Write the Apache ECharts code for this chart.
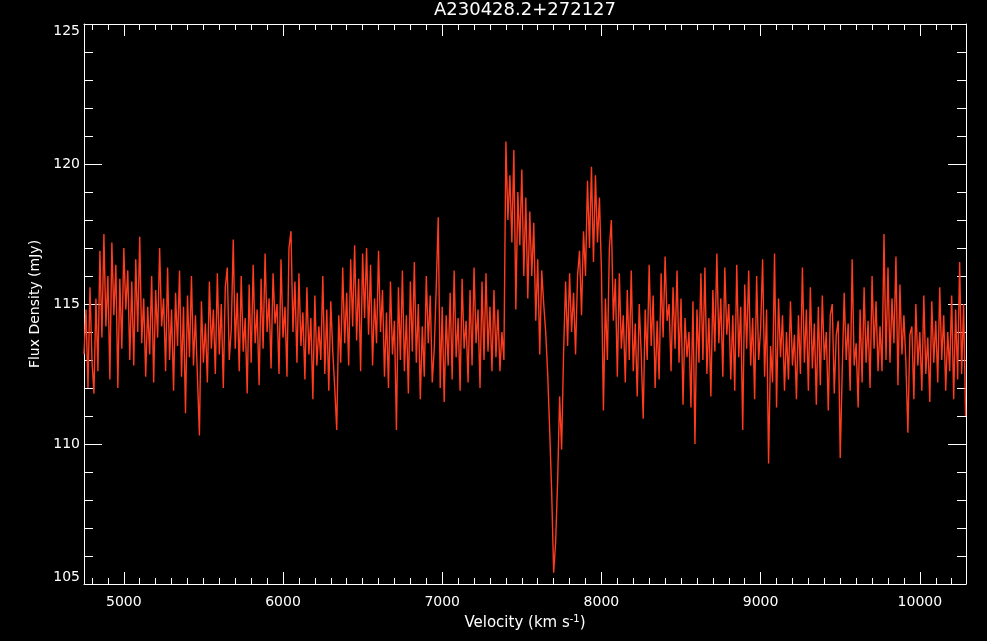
<!DOCTYPE html>
<html>
<head>
<meta charset="utf-8">
<script src="https://cdn.jsdelivr.net/npm/echarts@6/dist/echarts.min.js"></script>
<style>
html,body{margin:0;padding:0;background:#000;}
#chart{width:987px;height:641px;}
</style>
</head>
<body>
<div id="chart"></div>
<script>
const chartTitle = 'A230428.2+272127';
const xAxisTitle = 'Velocity (km s{sup|-1})';
const yAxisTitle = 'Flux Density (mJy)';
const velocityStart = 4750;   // km/s, first channel
const velocityStep = 12.5;    // km/s per channel
const xRange = [4750, 10290];
const yRange = [105, 125];
const yTickStep = 5;

// Flux density (mJy) per channel
const flux = [
  113.2, 114.8, 112.0, 115.6, 113.0, 111.8, 115.2, 112.6,
  116.9, 113.8, 117.5, 114.2, 116.0, 112.3, 117.2, 114.6,
  116.4, 112.0, 115.9, 113.4, 117.0, 114.8, 116.2, 113.0,
  115.8, 112.8, 116.6, 114.0, 117.4, 113.6, 115.2, 112.4,
  114.9, 113.2, 116.0, 112.2, 115.5, 113.8, 117.0, 114.2,
  115.2, 112.6, 116.3, 113.0, 114.8, 111.9, 115.4, 113.5,
  116.2, 112.4, 114.9, 111.1, 115.3, 113.1, 116.0, 112.8,
  114.6, 112.4, 110.3, 115.1, 112.9, 114.3, 112.2, 115.8,
  113.4, 114.8, 112.5, 116.1, 113.2, 115.0, 112.0, 115.6,
  116.3, 113.0, 114.1, 117.3, 113.4, 115.4, 112.6, 116.0,
  113.3, 114.5, 111.8, 115.7, 112.9, 116.4, 113.6, 114.8,
  112.1, 115.9, 113.4, 116.8, 114.0, 115.2, 112.7, 116.1,
  114.3, 115.0, 112.5, 116.6, 113.8, 114.9, 112.4, 117.0,
  117.6, 114.0, 115.8, 112.9, 116.1, 113.5, 114.7, 112.3,
  115.6, 113.2, 114.5, 111.6, 115.3, 112.8, 114.2, 113.0,
  116.0, 112.5, 114.8, 111.9, 115.1, 113.3, 112.0, 110.5,
  114.6, 112.9, 116.3, 113.6, 115.4, 112.8, 116.6, 114.2,
  117.1, 113.7, 115.9, 112.6, 116.8, 114.5, 117.0, 113.9,
  116.4, 112.8, 115.2, 113.6, 116.9, 114.0, 115.5, 112.4,
  114.7, 112.0, 115.8, 113.2, 114.4, 110.5, 115.6, 113.0,
  116.2, 112.6, 114.6, 111.8, 115.8, 113.3, 116.5, 112.9,
  115.0, 111.6, 114.2, 112.4, 116.0, 113.6, 115.3, 112.2,
  113.4, 115.6, 118.1, 112.0, 114.9, 111.5, 114.6, 112.8,
  115.4, 112.3, 116.2, 113.1, 114.5, 111.9, 115.9, 113.4,
  114.4, 112.2, 115.5, 112.8, 116.3, 113.6, 114.8, 112.0,
  115.8, 113.0, 116.1, 113.3, 114.9, 112.6, 115.5, 113.1,
  114.8, 112.6, 114.0, 113.0, 120.8, 118.0, 119.6, 117.2,
  120.5, 114.8, 119.0, 117.1, 119.8, 116.0, 118.8, 115.2,
  118.3, 116.0, 117.9, 114.4, 116.6, 113.2, 116.2, 115.0,
  114.0, 112.5, 110.5, 108.3, 105.4, 106.5, 108.7, 111.7,
  109.8, 113.3, 115.8, 113.5, 116.1, 114.0, 115.4, 113.2,
  116.0, 116.9, 114.6, 117.6, 116.0, 119.4, 117.0, 119.9,
  116.5, 119.6, 117.2, 118.8, 116.2, 111.2, 115.2, 113.0,
  117.0, 118.0, 114.4, 115.9, 112.4, 116.1, 113.4, 114.6,
  112.2, 115.5, 113.0, 116.2, 112.6, 114.3, 111.7, 115.0,
  113.2, 110.9, 114.8, 113.0, 116.4, 113.5, 115.3, 112.0,
  114.4, 112.3, 116.1, 113.8, 116.7, 114.4, 115.0, 112.6,
  115.6, 113.4, 116.2, 112.9, 115.2, 111.4, 114.5, 113.1,
  114.0, 111.3, 115.1, 110.0, 114.8, 112.9, 116.1, 113.0,
  116.3, 112.5, 114.5, 111.7, 115.5, 113.3, 116.8, 113.6,
  115.2, 112.4, 116.3, 113.9, 115.0, 112.3, 114.6, 111.9,
  116.4, 113.1, 114.9, 110.5, 115.7, 113.4, 116.2, 112.8,
  114.5, 111.6, 116.0, 113.0, 114.1, 116.6, 112.4, 114.8,
  109.3, 113.5, 112.2, 116.8, 111.3, 115.2, 113.1, 114.6,
  111.9, 114.0, 112.3, 115.1, 112.8, 113.9, 111.6, 114.6,
  112.5, 116.3, 112.9, 114.8, 111.9, 115.6, 112.7, 114.3,
  111.4, 114.9, 112.1, 115.3, 113.0, 114.0, 111.2, 114.6,
  115.0, 111.8, 113.9, 114.4, 109.5, 112.6, 115.4, 113.0,
  114.3, 111.9, 116.6, 112.8, 113.6, 111.3, 114.8, 112.2,
  115.6, 112.9, 114.4, 112.0, 116.0, 113.4, 115.1, 112.6,
  114.2, 112.6, 117.5, 113.0, 116.3, 112.9, 115.2, 113.6,
  116.7, 112.1, 115.7, 113.2, 114.6, 112.9, 110.4, 113.9,
  114.2, 111.6, 115.0, 112.8, 114.0, 111.9, 115.3, 112.5,
  113.8, 111.5, 115.1, 112.9, 114.4, 112.2, 115.6, 113.0,
  114.6, 111.9, 114.0, 112.6, 115.3, 111.6, 114.8, 112.3,
  116.5, 112.5, 115.0, 111.0
];

const seriesData = flux.map((f, i) => [velocityStart + i * velocityStep, f]);

const FONT = 'DejaVu Sans';
const white = '#ffffff';

function xAxisCfg(pos, showLabels) {
  return {
    type: 'value', position: pos, min: xRange[0], max: xRange[1],
    axisLine: { show: true, onZero: false, lineStyle: { color: white, width: 1 } },
    axisTick: { show: true, inside: true, length: 12, lineStyle: { color: white } },
    minorTick: { show: true, splitNumber: 10, length: 6, lineStyle: { color: white } },
    splitLine: { show: false }, minorSplitLine: { show: false },
    axisLabel: { show: showLabels, color: white, fontFamily: FONT, fontSize: 14, margin: 11,
      showMinLabel: false, showMaxLabel: false, formatter: v => String(v) },
    name: showLabels ? xAxisTitle : '',
    nameLocation: 'middle', nameGap: 30,
    nameTextStyle: { color: white, fontFamily: FONT, fontSize: 15,
      rich: { sup: { color: white, fontFamily: FONT, fontSize: 10, verticalAlign: 'top', padding: [0, 0, 8, 0] } } }
  };
}
function yAxisCfg(pos, showLabels) {
  return {
    type: 'value', position: pos, min: yRange[0], max: yRange[1], interval: yTickStep,
    axisLine: { show: true, onZero: false, lineStyle: { color: white, width: 1 } },
    axisTick: { show: true, inside: true, length: 18, lineStyle: { color: white } },
    minorTick: { show: true, splitNumber: 5, length: 9, lineStyle: { color: white } },
    splitLine: { show: false }, minorSplitLine: { show: false },
    axisLabel: { show: showLabels, color: white, fontFamily: FONT, fontSize: 14, margin: 4,
      verticalAlignMinLabel: 'bottom', verticalAlignMaxLabel: 'top', formatter: v => String(v) },
    name: showLabels ? yAxisTitle : '',
    nameLocation: 'middle', nameGap: 42,
    nameTextStyle: { color: white, fontFamily: FONT, fontSize: 14 }
  };
}

const chart = echarts.init(document.getElementById('chart'), null, { renderer: 'canvas' });
chart.setOption({
  backgroundColor: '#000000',
  animation: false,
  title: {
    text: chartTitle, left: 525, top: 1, padding: 0, textAlign: 'center',
    textStyle: { color: white, fontFamily: FONT, fontSize: 18, fontWeight: 'normal' }
  },
  grid: { left: 84, right: 21, top: 24, bottom: 57, containLabel: false },
  xAxis: [xAxisCfg('bottom', true), xAxisCfg('top', false)],
  yAxis: [yAxisCfg('left', true), yAxisCfg('right', false)],
  series: [{
    type: 'line', xAxisIndex: 0, yAxisIndex: 0,
    data: seriesData, showSymbol: false, symbol: 'none',
    lineStyle: { color: '#ff3c1e', width: 1.4 },
    sampling: null, smooth: false
  }]
});
</script>
</body>
</html>
